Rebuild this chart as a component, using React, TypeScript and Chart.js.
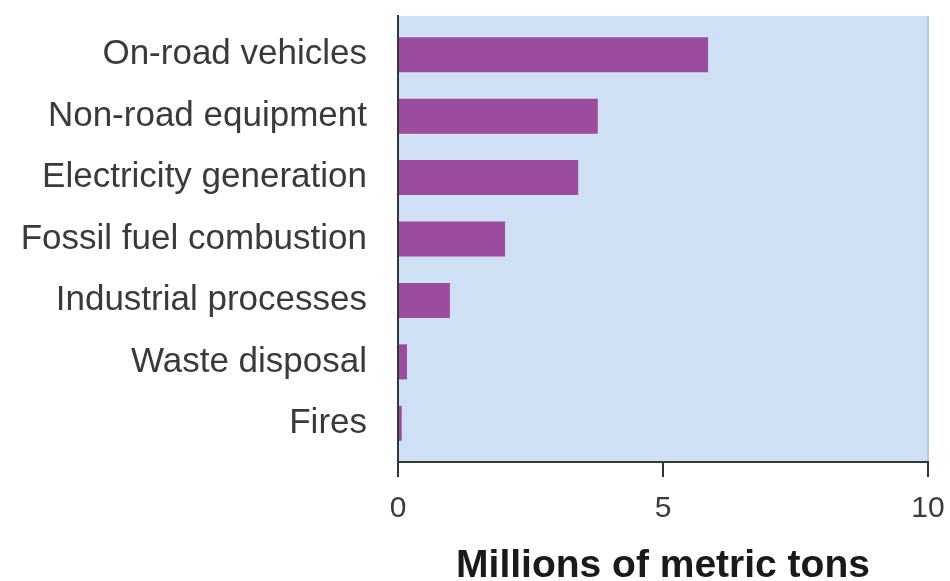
import React, { useEffect, useRef } from "react";
import { Chart, registerables } from "chart.js";

Chart.register(...registerables);

const categories = [
  "On-road vehicles",
  "Non-road equipment",
  "Electricity generation",
  "Fossil fuel combustion",
  "Industrial processes",
  "Waste disposal",
  "Fires",
];
const emissions = [5.85, 3.77, 3.4, 2.02, 0.98, 0.17, 0.07];
const xTicks = [0, 5, 10];

const FONT = '"Liberation Sans", Arial, Helvetica, sans-serif';

const plotBackground = {
  id: "plotBackground",
  beforeDraw(chart: Chart) {
    const { ctx, chartArea } = chart;
    ctx.save();
    ctx.fillStyle = "#cfe0f5";
    ctx.fillRect(chartArea.left, chartArea.top, chartArea.right - chartArea.left, chartArea.bottom - chartArea.top);
    ctx.restore();
  },
};

const App = () => {
  const chartRef = useRef<HTMLCanvasElement | null>(null);
  const chartInstance = useRef<Chart | null>(null);

  useEffect(() => {
    const ctx = chartRef.current?.getContext("2d");
    if (!ctx) return;
    if (chartInstance.current) chartInstance.current.destroy();

    chartInstance.current = new Chart(ctx, {
      type: "bar",
      data: {
        datasets: [
          {
            data: emissions.map((v, i) => ({ x: v, y: i })),
            backgroundColor: "#9c4c9e",
            borderWidth: 0,
            barPercentage: 0.57,
            categoryPercentage: 1,
          },
        ],
      },
      plugins: [plotBackground],
      options: {
        indexAxis: "y",
        animation: false,
        responsive: true,
        maintainAspectRatio: false,
        layout: { padding: { top: 16, right: 22, left: 0, bottom: 0 } },
        scales: {
          y: {
            type: "linear",
            reverse: true,
            offset: false,
            min: -0.63,
            max: categories.length - 1 + 0.63,
            afterFit: (s: any) => {
              s.width = 398;
              s.paddingTop = 0;
              s.paddingBottom = 0;
            },
            afterBuildTicks: (s: any) => {
              s.ticks = categories.map((_, i) => ({ value: i }));
            },
            ticks: {
              color: "#3a3a3a",
              padding: 31,
              font: { family: FONT, size: 35 },
              callback: (val: string | number) => categories[Number(val)] ?? "",
            },
            grid: { display: true, drawOnChartArea: false, drawTicks: false, tickLength: 0 },
            border: { display: true, color: "#2e3a3a", width: 2 },
          },
          x: {
            type: "linear",
            min: 0,
            max: 10,
            afterFit: (s: any) => {
              s.height = 119;
              s.paddingLeft = 0;
              s.paddingRight = 0;
            },
            afterBuildTicks: (s: any) => {
              s.ticks = xTicks.map((v) => ({ value: v }));
            },
            ticks: {
              color: "#3a3a3a",
              padding: 14,
              font: { family: FONT, size: 30 },
            },
            grid: {
              drawOnChartArea: true,
              color: (c: any) => (c.tick && c.tick.value === 10 ? "#b9c6d2" : "transparent"),
              tickColor: "#333333",
              tickLength: 15,
              lineWidth: 2,
            },
            border: { display: true, color: "#333a3a", width: 2 },
            title: {
              display: true,
              text: "Millions of metric tons",
              color: "#1a1a1a",
              font: { family: FONT, size: 39, weight: "bold", lineHeight: 1 },
              padding: { top: 0, bottom: -5 },
            },
          },
        },
        plugins: {
          legend: { display: false },
          tooltip: { enabled: false },
        },
      },
    });

    return () => {
      chartInstance.current?.destroy();
      chartInstance.current = null;
    };
  }, []);

  return (
    <div style={{ position: "absolute", left: 0, top: 0, width: 950, height: 581, background: "#fff" }}>
      <canvas ref={chartRef} />
    </div>
  );
};

export default App;
